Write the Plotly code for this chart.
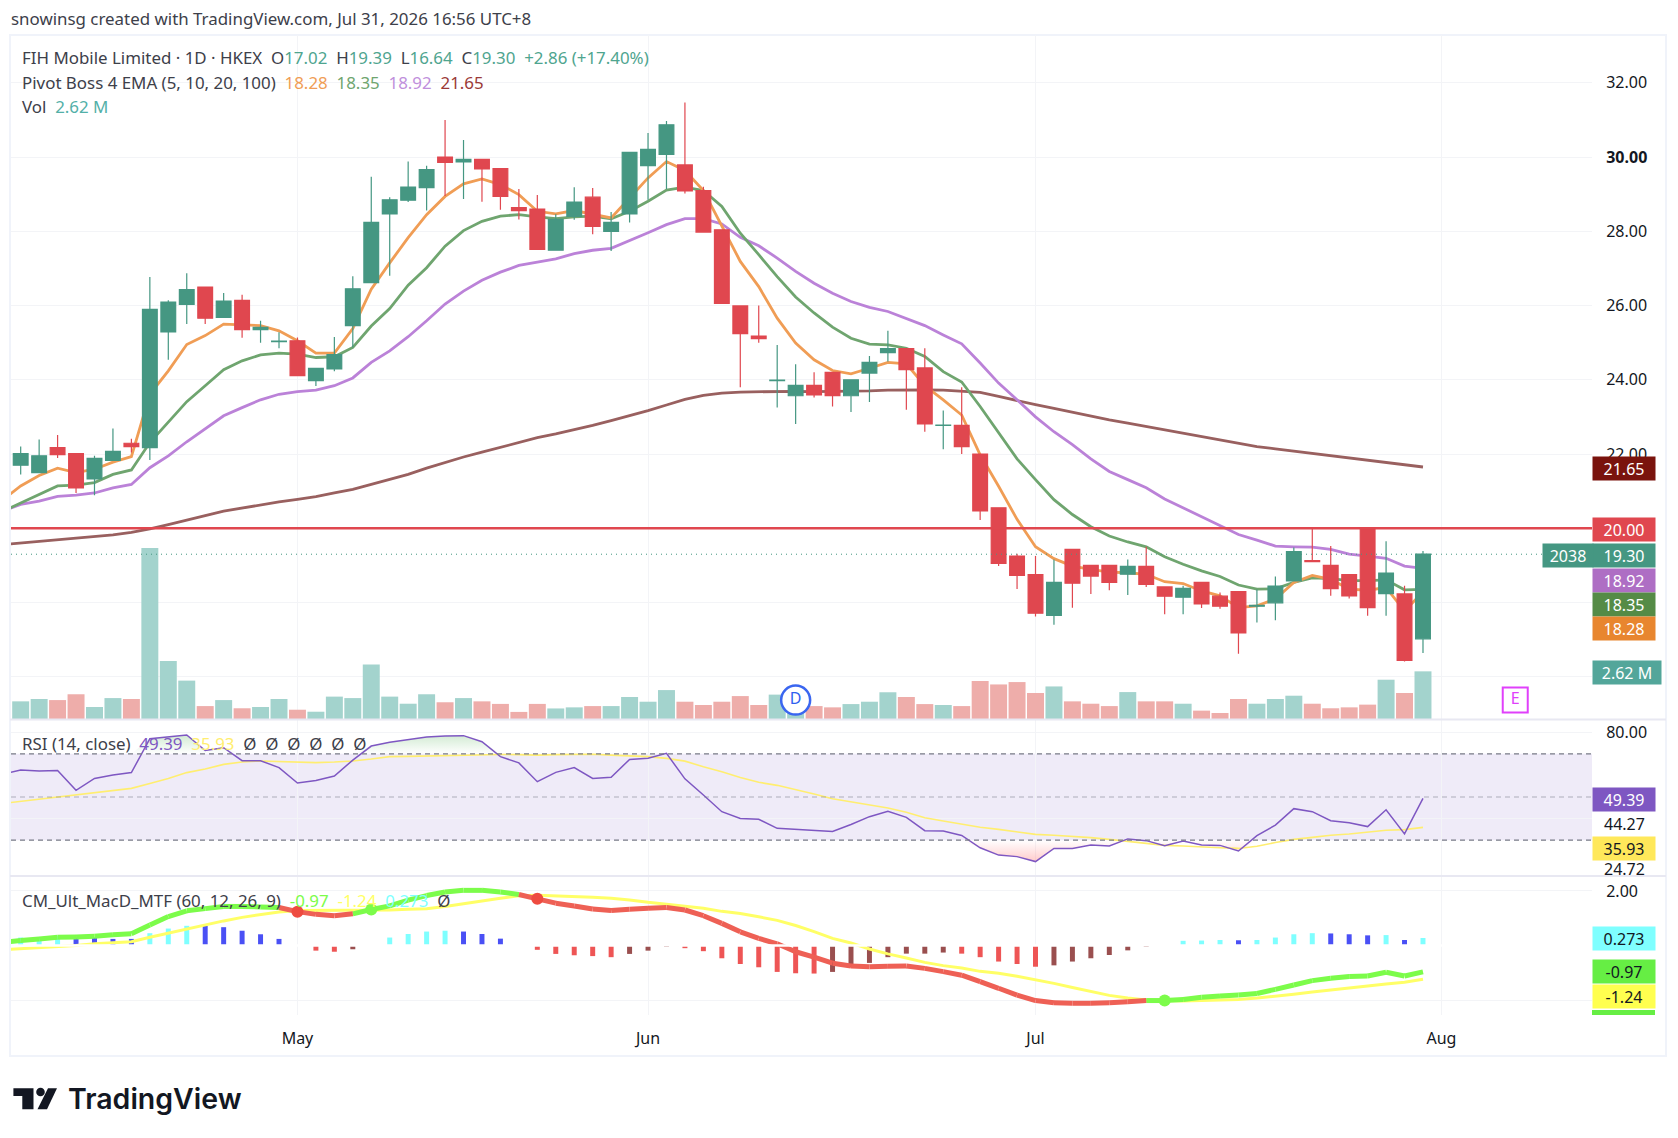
import plotly.graph_objects as go

W = 1678
H = 1138

# bars are plain integers, one per trading day
bar_x = list(range(77))
line_x = list(range(-1, 77))  # lines start one bar off screen on the left

opens = [21.70, 21.50, 22.17, 22.01, 21.33, 21.83, 22.29, 22.17, 25.29, 26.03, 26.50, 25.68, 26.14, 25.35, 25.03,
         25.05, 23.98, 24.29, 25.46, 26.62, 28.47, 28.84, 29.18, 30.00, 29.87, 29.94, 29.69, 28.64, 28.60, 27.49,
         28.40, 28.92, 28.00, 28.47, 29.77, 30.07, 29.79, 29.10, 28.04, 25.99, 25.18, 23.98, 23.57, 23.85, 24.20,
         23.57, 24.18, 24.73, 24.84, 24.32, 22.77, 22.77, 22.00, 20.55, 19.25, 18.75, 17.65, 19.43, 19.00, 19.00,
         18.76, 18.97, 18.42, 18.14, 18.54, 18.17, 18.29, 17.90, 17.99, 18.58, 19.13, 19.00, 18.75, 20.00, 18.24,
         18.23, 17.02]
highs = [22.20, 22.39, 22.51, 22.01, 21.95, 22.69, 22.41, 26.77, 26.14, 26.87, 26.50, 26.34, 26.29, 25.59, 25.28,
         25.14, 24.31, 25.15, 26.79, 29.47, 28.92, 29.88, 29.77, 31.00, 30.46, 29.94, 29.69, 29.14, 28.98, 28.46,
         29.19, 29.17, 28.52, 30.13, 30.65, 30.97, 31.47, 29.20, 28.04, 25.99, 26.00, 24.94, 24.42, 24.20, 24.20,
         24.00, 24.64, 25.32, 24.84, 24.85, 23.17, 23.80, 22.00, 20.55, 19.31, 19.25, 19.16, 19.43, 19.00, 19.00,
         19.16, 19.50, 18.42, 18.45, 18.54, 18.27, 18.29, 18.35, 18.70, 19.48, 20.00, 19.52, 18.75, 20.00, 19.65,
         18.45, 19.39]
lows = [21.45, 21.50, 21.89, 20.95, 20.89, 21.83, 22.04, 21.84, 24.54, 25.50, 25.50, 25.68, 25.13, 25.00, 24.85,
        24.11, 23.83, 24.23, 24.87, 26.62, 26.80, 28.79, 28.56, 28.95, 28.87, 28.80, 28.58, 28.32, 27.51, 27.49,
        28.31, 27.92, 27.47, 28.24, 28.85, 29.14, 29.02, 27.98, 26.06, 23.80, 25.00, 23.25, 22.81, 23.52, 23.28,
        23.13, 23.40, 24.49, 23.19, 22.60, 22.13, 22.00, 20.22, 18.98, 18.36, 17.62, 17.40, 17.86, 18.23, 18.33,
        18.20, 18.42, 17.68, 17.68, 17.85, 17.83, 16.62, 17.46, 17.52, 18.58, 19.10, 18.18, 18.11, 17.64, 17.64,
        16.41, 16.64]
closes = [22.01, 21.95, 21.98, 21.09, 21.88, 22.07, 22.20, 25.90, 26.09, 26.43, 25.66, 26.12, 25.35, 25.41, 25.04,
          24.11, 24.31, 24.68, 26.45, 28.24, 28.85, 29.19, 29.66, 29.86, 29.94, 29.68, 28.94, 28.56, 27.51, 28.32,
          28.79, 28.13, 28.24, 30.13, 30.21, 30.87, 29.09, 27.98, 26.06, 25.24, 25.11, 23.99, 23.85, 23.59, 23.57,
          24.00, 24.47, 24.84, 24.27, 22.81, 22.78, 22.20, 20.47, 19.05, 18.73, 17.71, 18.54, 18.52, 18.71, 18.54,
          18.97, 18.49, 18.17, 18.38, 17.96, 17.90, 17.18, 17.92, 18.44, 19.37, 19.10, 18.37, 18.18, 17.86, 18.79,
          16.44, 19.30]
volumes = [0.97, 1.10, 1.04, 1.36, 0.66, 1.15, 1.10, 9.40, 3.19, 2.11, 0.71, 1.04, 0.59, 0.66, 1.10, 0.51, 0.40,
           1.23, 1.15, 2.99, 1.23, 0.84, 1.36, 0.92, 1.15, 0.97, 0.83, 0.39, 0.83, 0.58, 0.64, 0.71, 0.71, 1.21,
           0.95, 1.59, 0.95, 0.77, 0.95, 1.26, 0.77, 1.34, 0.73, 0.71, 0.64, 0.82, 0.95, 1.47, 1.21, 0.82, 0.77,
           0.71, 2.09, 1.90, 2.03, 1.43, 1.79, 0.97, 0.84, 0.71, 1.48, 0.97, 0.97, 0.84, 0.46, 0.33, 1.10, 0.84,
           1.10, 1.28, 0.84, 0.59, 0.64, 0.79, 2.16, 1.43, 2.62]

ema5 = [20.75, 21.14, 21.42, 21.62, 21.50, 21.59, 21.78, 21.93, 23.61, 24.24, 24.95, 25.19, 25.50, 25.48, 25.46,
        25.32, 25.05, 24.72, 24.72, 25.38, 26.44, 27.15, 27.83, 28.45, 28.94, 29.28, 29.41, 29.26, 28.99, 28.54,
        28.47, 28.56, 28.45, 28.36, 28.90, 29.44, 29.88, 29.64, 29.10, 28.13, 27.19, 26.51, 25.66, 24.99, 24.54,
        24.25, 24.16, 24.31, 24.47, 24.43, 23.84, 23.46, 23.05, 21.98, 21.13, 20.24, 19.50, 19.18, 18.98, 18.89,
        18.82, 18.80, 18.76, 18.56, 18.51, 18.31, 18.18, 17.86, 17.91, 18.09, 18.54, 18.73, 18.62, 18.36, 18.33,
        18.40, 17.77, 18.28]
ema10 = [20.45, 20.68, 20.91, 21.14, 21.16, 21.23, 21.45, 21.57, 22.31, 22.85, 23.41, 23.84, 24.27, 24.51, 24.67,
         24.72, 24.69, 24.60, 24.62, 24.87, 25.45, 25.92, 26.55, 27.02, 27.60, 28.02, 28.27, 28.41, 28.45, 28.39,
         28.34, 28.39, 28.41, 28.34, 28.54, 28.81, 29.11, 29.19, 29.10, 28.67, 27.95, 27.37, 26.78, 26.23, 25.80,
         25.42, 25.12, 24.96, 24.94, 24.85, 24.63, 24.22, 23.94, 23.28, 22.56, 21.87, 21.31, 20.77, 20.37, 20.04,
         19.79, 19.63, 19.50, 19.23, 19.03, 18.85, 18.70, 18.47, 18.36, 18.37, 18.54, 18.66, 18.64, 18.59, 18.59,
         18.61, 18.34, 18.35]
ema20 = [20.46, 20.64, 20.73, 20.86, 20.89, 20.95, 21.09, 21.18, 21.63, 21.95, 22.33, 22.67, 23.03, 23.25, 23.46,
         23.61, 23.68, 23.72, 23.84, 24.05, 24.47, 24.78, 25.16, 25.59, 26.04, 26.39, 26.68, 26.90, 27.08, 27.17,
         27.26, 27.40, 27.49, 27.54, 27.74, 27.96, 28.18, 28.34, 28.34, 28.20, 27.84, 27.61, 27.28, 26.92, 26.60,
         26.33, 26.11, 25.95, 25.84, 25.66, 25.46, 25.21, 24.97, 24.45, 23.91, 23.46, 23.00, 22.60, 22.25, 21.87,
         21.53, 21.31, 21.09, 20.79, 20.55, 20.33, 20.08, 19.83, 19.68, 19.52, 19.50, 19.49, 19.43, 19.30, 19.25,
         19.19, 18.98, 18.92]
ema100 = [19.56, 19.60, 19.64, 19.68, 19.72, 19.76, 19.82, 19.89, 19.98, 20.10, 20.23, 20.34, 20.46, 20.55, 20.64,
          20.71, 20.78, 20.85, 20.95, 21.05, 21.18, 21.31, 21.45, 21.62, 21.78, 21.92, 22.05, 22.18, 22.31, 22.44,
          22.54, 22.65, 22.77, 22.90, 23.03, 23.17, 23.32, 23.47, 23.58, 23.64, 23.67, 23.68, 23.69, 23.69, 23.68,
          23.68, 23.68, 23.70, 23.72, 23.73, 23.73, 23.72, 23.70, 23.66, 23.55, 23.43, 23.33, 23.23, 23.12, 23.01,
          22.92, 22.83, 22.74, 22.65, 22.56, 22.46, 22.38, 22.28, 22.20, 22.14, 22.08, 22.02, 21.96, 21.90, 21.84,
          21.77, 21.70, 21.65]

rsi = [60.5, 62.5, 62.0, 62.3, 53.1, 58.6, 60.2, 61.3, 77.0, 77.9, 78.7, 71.5, 72.8, 66.8, 66.8, 63.6, 56.5, 57.6,
       59.7, 67.1, 73.6, 75.3, 76.4, 77.8, 78.2, 78.4, 75.6, 68.7, 65.8, 57.1, 61.4, 63.6, 58.6, 59.1, 67.4, 67.9,
       70.2, 58.4, 50.9, 43.2, 40.1, 39.7, 35.5, 35.0, 34.3, 34.0, 37.3, 40.9, 43.4, 40.6, 34.4, 34.3, 32.2, 26.5,
       23.1, 22.4, 20.1, 26.2, 26.2, 27.8, 27.3, 30.6, 29.8, 27.5, 29.6, 27.8, 27.6, 25.0, 32.1, 37.0, 44.6, 43.2,
       39.0, 38.1, 36.3, 44.1, 32.9, 49.39]
rsi_ma = [47.0, 48.0, 48.9, 50.2, 50.9, 52.0, 52.9, 54.0, 56.3, 58.6, 61.3, 63.0, 65.1, 66.2, 66.7, 66.5, 66.2, 65.9,
          66.2, 66.7, 67.6, 68.7, 68.8, 69.0, 69.3, 69.4, 69.6, 69.7, 69.6, 69.4, 69.6, 69.8, 69.8, 69.4, 69.0, 68.7,
          67.9, 66.6, 64.0, 61.7, 59.0, 56.8, 55.4, 53.5, 51.4, 49.2, 47.8, 46.5, 44.9, 42.9, 40.4, 38.9, 37.3, 36.0,
          35.0, 33.8, 32.7, 32.3, 31.8, 31.2, 30.4, 29.5, 28.5, 27.6, 27.3, 26.8, 26.5, 26.2, 27.2, 28.9, 30.4, 31.3,
          32.3, 32.9, 33.6, 34.6, 34.9, 35.93]

macd = [0.12, 0.18, 0.24, 0.30, 0.31, 0.34, 0.39, 0.43, 0.75, 1.06, 1.27, 1.35, 1.43, 1.43, 1.41, 1.39, 1.24, 1.14,
        1.09, 1.16, 1.32, 1.45, 1.66, 1.83, 1.96, 2.02, 2.02, 1.96, 1.87, 1.71, 1.55, 1.45, 1.34, 1.28, 1.33, 1.36,
        1.39, 1.30, 1.09, 0.81, 0.50, 0.26, 0.06, -0.23, -0.43, -0.65, -0.75, -0.78, -0.76, -0.75, -0.84, -0.96,
        -1.09, -1.33, -1.57, -1.82, -2.02, -2.10, -2.12, -2.12, -2.10, -2.06, -2.02, -2.02, -1.98, -1.90, -1.85,
        -1.82, -1.76, -1.61, -1.45, -1.29, -1.20, -1.14, -1.12, -0.98, -1.12, -0.97]
macd_signal = [-0.16, -0.12, -0.09, -0.04, 0.00, 0.06, 0.10, 0.14, 0.30, 0.45, 0.61, 0.75, 0.90, 1.03, 1.14, 1.23,
               1.28, 1.28, 1.28, 1.28, 1.30, 1.30, 1.33, 1.35, 1.43, 1.52, 1.63, 1.73, 1.82, 1.84, 1.82, 1.79, 1.77,
               1.73, 1.67, 1.58, 1.51, 1.45, 1.36, 1.25, 1.17, 1.05, 0.92, 0.73, 0.51, 0.26, 0.09, -0.13, -0.31,
               -0.46, -0.62, -0.74, -0.83, -0.95, -1.02, -1.13, -1.25, -1.39, -1.54, -1.69, -1.83, -1.93, -2.00,
               -2.02, -2.04, -2.02, -2.00, -1.98, -1.93, -1.87, -1.79, -1.71, -1.63, -1.57, -1.49, -1.41, -1.35,
               -1.24]
macd_hist = [0.29, 0.31, 0.36, 0.29, 0.29, 0.24, 0.24, 0.45, 0.62, 0.72, 0.72, 0.67, 0.54, 0.41, 0.24, 0.00, -0.19,
             -0.23, -0.14, 0.00, 0.29, 0.42, 0.51, 0.54, 0.51, 0.42, 0.25, 0.00, -0.16, -0.31, -0.36, -0.39, -0.43,
             -0.31, -0.19, -0.04, -0.10, -0.21, -0.47, -0.68, -0.80, -0.97, -1.02, -1.03, -0.97, -0.80, -0.64, -0.43,
             -0.30, -0.30, -0.26, -0.30, -0.43, -0.59, -0.68, -0.78, -0.73, -0.59, -0.47, -0.35, -0.18, -0.04, 0.00,
             0.17, 0.18, 0.20, 0.19, 0.20, 0.29, 0.41, 0.45, 0.44, 0.41, 0.37, 0.38, 0.20, 0.273]

month_ticks = [15, 34, 55, 77]
month_labels = ["May", "Jun", "Jul", "Aug"]
price_ticks = [32, 30, 28, 26, 24, 22, 20, 18, 16]
# the lower labels are hidden behind the badges in the app, only the grid shows
price_labels = ["32.00", "<b>30.00</b>", "28.00", "26.00", "24.00", "22.00", "", "", ""]
resistance = 20.00

FONT = "Noto Sans"
TEXT = "#131722"
GRID = "#f3f4f7"
UP = "#459782"
DOWN = "#e0474f"
AXIS_LEFT = 11
AXIS_RIGHT = 1592


def px_x(v):
    return v / W


def px_y(v):
    return 1 - v / H


x_dom = [px_x(AXIS_LEFT), px_x(AXIS_RIGHT)]
x_range = [-0.525, 85.16]

fig = go.Figure()

# volume sits on the base axis so everything else draws over it
vol_colors = ["#a3d3cd" if c >= o else "#eeadaa" for o, c in zip(opens, closes)]
fig.add_trace(go.Bar(x=bar_x, y=volumes, width=0.92, marker_color=vol_colors, marker_line_width=0,
                     xaxis="x", yaxis="y"))

for values, color in [(ema100, "#99605f"), (ema20, "#bb82d8"), (ema10, "#6fa56f"), (ema5, "#f09d55")]:
    fig.add_trace(go.Scatter(x=line_x, y=values, mode="lines", line=dict(color=color, width=2.8),
                             xaxis="x", yaxis="y2"))

# earnings / dividend events
fig.add_trace(go.Scatter(x=[42], y=[15.37], mode="markers+text", text=["D"],
                         textfont=dict(family=FONT, size=16, color="#2f5fef"),
                         marker=dict(symbol="circle", size=29, color="white", line=dict(color="#3a66f0", width=2.5)),
                         xaxis="x", yaxis="y2"))
fig.add_trace(go.Scatter(x=[81], y=[15.37], mode="markers+text", text=["E"],
                         textfont=dict(family=FONT, size=16, color="#e040fb"),
                         marker=dict(symbol="square", size=25, color="white", line=dict(color="#e040fb", width=2)),
                         xaxis="x", yaxis="y2"))

# candles on their own overlay axis, otherwise the scatter lines end up on top
fig.add_trace(go.Candlestick(x=bar_x, open=opens, high=highs, low=lows, close=closes,
                             increasing=dict(line=dict(color=UP, width=1.2), fillcolor=UP),
                             decreasing=dict(line=dict(color=DOWN, width=1.2), fillcolor=DOWN),
                             xaxis="x", yaxis="y3"))

# RSI
fig.add_trace(go.Scatter(x=line_x, y=[70] * len(line_x), mode="lines", line=dict(width=0), xaxis="x2", yaxis="y4"))
fig.add_trace(go.Scatter(x=line_x, y=[max(v, 70) for v in rsi], mode="lines", line=dict(width=0), fill="tonexty",
                         fillgradient=dict(type="vertical",
                                           colorscale=[[0, "rgba(76,175,80,0)"], [1, "rgba(76,175,80,0.25)"]]),
                         xaxis="x2", yaxis="y4"))
fig.add_trace(go.Scatter(x=line_x, y=[30] * len(line_x), mode="lines", line=dict(width=0), xaxis="x2", yaxis="y4"))
fig.add_trace(go.Scatter(x=line_x, y=[min(v, 30) for v in rsi], mode="lines", line=dict(width=0), fill="tonexty",
                         fillgradient=dict(type="vertical",
                                           colorscale=[[0, "rgba(255,82,82,0.3)"], [1, "rgba(255,82,82,0)"]]),
                         xaxis="x2", yaxis="y4"))
fig.add_trace(go.Scatter(x=line_x, y=rsi_ma, mode="lines", line=dict(color="#ffee70", width=1.6),
                         xaxis="x2", yaxis="y4"))
fig.add_trace(go.Scatter(x=line_x, y=rsi, mode="lines", line=dict(color="#7e57c2", width=1.5),
                         xaxis="x2", yaxis="y4"))

# MACD histogram, colour depends on sign and direction
hist_colors = []
prev = 0
for v in macd_hist:
    if v >= 0:
        hist_colors.append("#7fffff" if v > prev else "#4a50f5")
    else:
        hist_colors.append("#ee5555" if v < prev else "#9a4f4f")
    prev = v
fig.add_trace(go.Bar(x=bar_x, y=macd_hist, width=0.27, marker_color=hist_colors, marker_line_width=0,
                     xaxis="x3", yaxis="y5"))
fig.add_trace(go.Scatter(x=line_x, y=macd_signal, mode="lines", line=dict(color="#ffff66", width=3),
                         xaxis="x3", yaxis="y5"))

# MACD line: green above the signal, red below
green_x, green_y, red_x, red_y = [], [], [], []
cross_x, cross_y, cross_c = [], [], []
for i in range(1, len(line_x)):
    above = macd[i] >= macd_signal[i]
    if above:
        green_x += [line_x[i - 1], line_x[i], None]
        green_y += [macd[i - 1], macd[i], None]
    else:
        red_x += [line_x[i - 1], line_x[i], None]
        red_y += [macd[i - 1], macd[i], None]
    if above != (macd[i - 1] >= macd_signal[i - 1]):
        cross_x.append(line_x[i])
        cross_y.append(macd[i])
        cross_c.append("#7cfc4a" if above else "#ee4b40")
fig.add_trace(go.Scatter(x=green_x, y=green_y, mode="lines", line=dict(color="#7cfc4a", width=5),
                         xaxis="x3", yaxis="y5"))
fig.add_trace(go.Scatter(x=red_x, y=red_y, mode="lines", line=dict(color="#ee6055", width=5),
                         xaxis="x3", yaxis="y5"))
fig.add_trace(go.Scatter(x=cross_x, y=cross_y, mode="markers", marker=dict(color=cross_c, size=12),
                         xaxis="x3", yaxis="y5"))

shapes = [
    # outer frame
    dict(type="rect", xref="paper", yref="paper", x0=px_x(10), x1=px_x(1666), y0=px_y(1056), y1=px_y(35),
         line=dict(color="#f0f3fa", width=2), layer="below"),
    # pane separators
    dict(type="line", xref="paper", yref="paper", x0=px_x(10), x1=px_x(1666), y0=px_y(719.5), y1=px_y(719.5),
         line=dict(color="#e8e8f2", width=2)),
    dict(type="line", xref="paper", yref="paper", x0=px_x(10), x1=px_x(1666), y0=px_y(876), y1=px_y(876),
         line=dict(color="#e8e8f2", width=2)),
    # resistance and last price
    dict(type="line", xref="x domain", yref="y2", x0=0, x1=1, y0=resistance, y1=resistance,
         line=dict(color=DOWN, width=2.4)),
    dict(type="line", xref="x domain", yref="y2", x0=0, x1=1, y0=closes[-1], y1=closes[-1],
         line=dict(color=UP, width=1, dash="1px,4px")),
    # RSI band
    dict(type="rect", xref="x2 domain", yref="y4", x0=0, x1=1, y0=30, y1=70,
         fillcolor="rgba(126,87,194,0.12)", line_width=0, layer="below"),
    dict(type="line", xref="x2 domain", yref="y4", x0=0, x1=1, y0=70, y1=70,
         line=dict(color="#787b86", width=1.2, dash="5px,4px")),
    dict(type="line", xref="x2 domain", yref="y4", x0=0, x1=1, y0=50, y1=50,
         line=dict(color="rgba(120,123,134,0.55)", width=1.2, dash="5px,4px")),
    dict(type="line", xref="x2 domain", yref="y4", x0=0, x1=1, y0=30, y1=30,
         line=dict(color="#787b86", width=1.2, dash="5px,4px")),
    # gap around the histogram zero
    dict(type="line", xref="x3 domain", yref="y5", x0=0, x1=1, y0=0, y1=0,
         line=dict(color="white", width=2.5)),
    # bit of a clipped label at the bottom of the scale
    dict(type="rect", xref="paper", yref="paper", x0=px_x(1592), x1=px_x(1655), y0=px_y(1015), y1=px_y(1010),
         fillcolor="#66ee44", line_width=0),
]

# TradingView logo
logo_paths = [
    [(13.4, 1088.3), (33.5, 1088.3), (33.5, 1109.3), (22.3, 1109.3), (22.3, 1096), (13.4, 1096)],
    [(48, 1088.3), (57, 1088.3), (47, 1109.3), (37.5, 1109.3)],
]
for pts in logo_paths:
    path = "M " + " L ".join(f"{px_x(a):.5f} {px_y(b):.5f}" for a, b in pts) + " Z"
    shapes.append(dict(type="path", xref="paper", yref="paper", path=path, fillcolor="#131722", line_width=0))
shapes.append(dict(type="circle", xref="paper", yref="paper", x0=px_x(36.2), x1=px_x(44.8), y0=px_y(1096.3),
                   y1=px_y(1087.7), fillcolor="#131722", line_width=0))


def colored(text, color):
    return f'<span style="color:{color}">{text}</span>'


NB = "\u00a0"
G = "#4fa58f"
legend_rows = [
    (9, 18.5, "snowinsg created with TradingView.com, Jul 31, 2026 16:56 UTC+8"),
    (20, 58, f"FIH Mobile Limited · 1D · HKEX{NB}{NB}O" + colored("17.02", G) + f"{NB}{NB}H" + colored("19.39", G)
     + f"{NB}{NB}L" + colored("16.64", G) + f"{NB}{NB}C" + colored("19.30", G) + NB + NB
     + colored("+2.86 (+17.40%)", G)),
    (20, 82, f"Pivot Boss 4 EMA (5, 10, 20, 100){NB}{NB}" + colored("18.28", "#f09d55") + NB + NB
     + colored("18.35", "#6fa56f") + NB + NB + colored("18.92", "#c08fdc") + NB + NB + colored("21.65", "#9b3a38")),
    (20, 106.5, f"Vol{NB}{NB}" + colored("2.62" + NB + "M", "#53b0a8")),
    (20, 743, f"RSI (14, close){NB}{NB}" + colored("49.39", "#7e57c2") + NB + NB + colored("35.93", "#ffee70")
     + NB + NB + f"{NB}{NB}".join("Ø" * 6)),
    (20, 900, f"CM_Ult_MacD_MTF (60, 12, 26, 9){NB}{NB}" + colored("-0.97", "#7cfc4a") + NB + NB
     + colored("-1.24", "#ffff66") + NB + NB + colored("0.273", "#7fffff") + f"{NB}{NB}Ø"),
]
annotations = []
for x0, y0, text in legend_rows:
    annotations.append(dict(xref="paper", yref="paper", x=px_x(x0), y=px_y(y0), xanchor="left", yanchor="middle",
                            text=text, showarrow=False, font=dict(family=FONT, size=16.9, color="#3d404a")))

# scale badges, pushed apart the way the app does it
badges = [
    ("21.65", 469, "#7a130d", "white", 62),
    ("20.00", 529.3, DOWN, "white", 62),
    ("19.30", 555, UP, "white", 62),
    ("18.92", 580.3, "#ae6ec4", "white", 62),
    ("18.35", 604.7, "#558b46", "white", 62),
    ("18.28", 628.7, "#e8862f", "white", 62),
    ("2.62" + NB + "M", 672.3, "#53a69a", "white", 68),
    ("49.39", 799, "#7e57c2", "white", 62),
    ("35.93", 848.3, "#ffe85a", TEXT, 62),
    ("0.273", 938.3, "#7fffff", TEXT, 62),
    ("-0.97", 971.7, "#66ee44", TEXT, 62),
    ("-1.24", 996, "#ffff4f", TEXT, 62),
]
for text, cy, bg, fg, width in badges:
    annotations.append(dict(xref="paper", yref="paper", x=px_x(1592), y=px_y(cy), xanchor="left", yanchor="middle",
                            text=text, showarrow=False, bgcolor=bg, width=width, height=23, align="center",
                            borderpad=0, font=dict(family=FONT, size=16, color=fg)))
annotations.append(dict(xref="paper", yref="paper", x=px_x(1542), y=px_y(555), xanchor="left", yanchor="middle",
                        text="2038", showarrow=False, bgcolor=UP, width=50, height=23, align="center", borderpad=0,
                        font=dict(family=FONT, size=16, color="white")))
for text, cy in [("44.27", 824), ("24.72", 869)]:
    annotations.append(dict(xref="paper", yref="paper", x=px_x(1624), y=px_y(cy), xanchor="center", yanchor="middle",
                            text=text, showarrow=False, font=dict(family=FONT, size=16, color=TEXT)))
annotations.append(dict(xref="paper", yref="paper", x=px_x(66), y=px_y(1098), xanchor="left", yanchor="middle",
                        text="TradingView", showarrow=False,
                        font=dict(family="Inter", size=28.5, weight=600, color="#131722")))

x_common = dict(range=x_range, tickmode="array", tickvals=month_ticks, showgrid=True, gridcolor=GRID, gridwidth=1,
                zeroline=False, showline=False, domain=x_dom)
y_right = dict(side="right", zeroline=False, showline=False, showgrid=True, gridcolor=GRID, gridwidth=1,
               ticks="outside", ticklen=10, tickcolor="rgba(0,0,0,0)",
               tickfont=dict(family=FONT, size=16, color=TEXT), tickmode="array")
main_dom = [px_y(719), px_y(35)]
price_range = [14.86, 33.29]

fig.update_layout(
    width=W,
    height=H,
    margin=dict(l=0, r=0, t=0, b=0),
    paper_bgcolor="white",
    plot_bgcolor="white",
    showlegend=False,
    hovermode=False,
    boxgap=0.2,
    boxgroupgap=0,
    barmode="overlay",
    shapes=shapes,
    annotations=annotations,
    xaxis=dict(x_common, anchor="y", showticklabels=False, rangeslider=dict(visible=False)),
    xaxis2=dict(x_common, anchor="y4", matches="x", showticklabels=False),
    xaxis3=dict(x_common, anchor="y5", matches="x", ticktext=month_labels, ticks="outside", ticklen=9,
                tickcolor="rgba(0,0,0,0)", tickfont=dict(family=FONT, size=16, color=TEXT)),
    yaxis=dict(domain=main_dom, range=[0, 37.6], showgrid=False, showticklabels=False, zeroline=False),
    yaxis2=dict(y_right, domain=main_dom, overlaying="y", anchor="x", range=price_range, tickvals=price_ticks,
                ticktext=price_labels),
    yaxis3=dict(domain=main_dom, overlaying="y", anchor="x", range=price_range, showgrid=False,
                showticklabels=False, zeroline=False),
    yaxis4=dict(y_right, domain=[px_y(876), px_y(720)], anchor="x2", range=[13.43, 85.65], tickvals=[80, 40],
                ticktext=["80.00", ""]),
    yaxis5=dict(y_right, domain=[px_y(1015), px_y(877)], anchor="x3", range=[-2.55, 2.51], tickvals=[2, -2],
                ticktext=["2.00", ""]),
)

fig.write_html("out.html", config=dict(displayModeBar=False),
               post_script="document.body.style.margin='0';document.body.style.overflow='hidden';")
